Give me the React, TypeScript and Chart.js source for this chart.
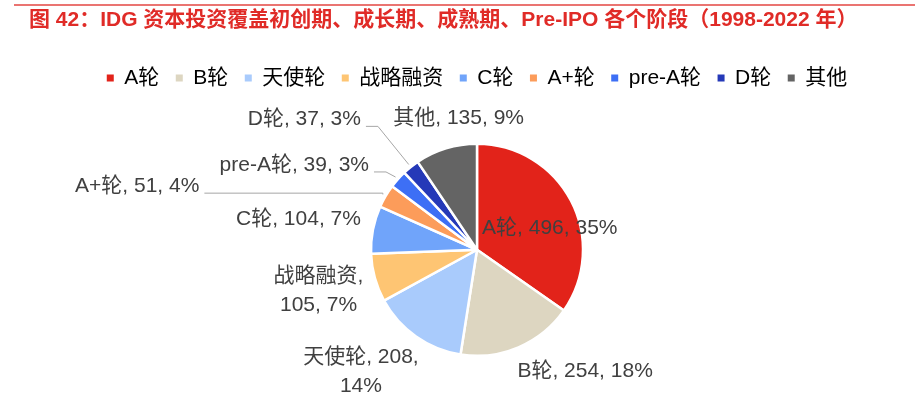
import React, { useEffect, useRef } from "react";
import { Chart, registerables } from "chart.js";

Chart.register(...registerables);

const titleText = "图 42：IDG 资本投资覆盖初创期、成长期、成熟期、Pre-IPO 各个阶段（1998-2022 年）";
const categories = ["A轮", "B轮", "天使轮", "战略融资", "C轮", "A+轮", "pre-A轮", "D轮", "其他"];
const counts = [496, 254, 208, 105, 104, 51, 39, 37, 135];
const percentLabels = ["35%", "18%", "14%", "7%", "7%", "4%", "3%", "3%", "9%"];
const sliceColors = ["#e2231a", "#ddd6c1", "#a9cbfc", "#fec573", "#70a4fa", "#fc9c5a", "#3d6ff5", "#2539b8", "#646464"];

// label placement relative to pie centre, in units of the pie radius
type LabelPos = { x: number; y: number; align: "left" | "right" | "center"; split?: "name" | "value"; leader?: boolean; knee?: number };
const labelLayout: LabelPos[] = [
  { x: 0.048, y: -0.2, align: "left" },
  { x: 0.381, y: 1.15, align: "left" },
  { x: -1.095, y: 1.15, align: "center", split: "value" },
  { x: -1.495, y: 0.385, align: "center", split: "name" },
  { x: -1.095, y: -0.29, align: "right" },
  { x: -2.619, y: -0.6, align: "right", leader: true },
  { x: -1.019, y: -0.8, align: "right", leader: true, knee: 12 },
  { x: -1.095, y: -1.23, align: "right", leader: true, knee: 12 },
  { x: -0.79, y: -1.24, align: "left" },
];

const FONT = '"Liberation Sans", "Noto Sans CJK SC", sans-serif';

const topRulePlugin = {
  id: "topRule",
  beforeDraw(chart: any) {
    const ctx = chart.ctx;
    ctx.save();
    ctx.fillStyle = "#e23a36";
    ctx.fillRect(14, 4.3, chart.width, 1.4);
    ctx.restore();
  },
};

const sliceLabelPlugin = {
  id: "sliceLabels",
  afterDatasetsDraw(chart: any) {
    const ctx = chart.ctx;
    const meta = chart.getDatasetMeta(0);
    ctx.save();
    ctx.font = `21px ${FONT}`;
    ctx.fillStyle = "#404040";
    ctx.textBaseline = "middle";
    meta.data.forEach((arc: any, i: number) => {
      const lay = labelLayout[i];
      const r = arc.outerRadius;
      const ax = arc.x + lay.x * r;
      const ay = arc.y + lay.y * r;
      const name = categories[i];
      const val = String(counts[i]);
      const pct = percentLabels[i];
      let lines: string[];
      if (lay.split === "name") lines = [`${name},`, `${val}, ${pct}`];
      else if (lay.split === "value") lines = [`${name}, ${val},`, pct];
      else lines = [`${name}, ${val}, ${pct}`];
      const lh = 29;
      ctx.textAlign = lay.align;
      lines.forEach((ln, k) => {
        ctx.fillText(ln, ax, ay + (k - (lines.length - 1) / 2) * lh);
      });
      if (lay.leader) {
        const mid = (arc.startAngle + arc.endAngle) / 2;
        const ex = arc.x + Math.cos(mid) * r * 1.03;
        const ey = arc.y + Math.sin(mid) * r * 1.03;
        const sx = ax + 5;
        const sy = ay + 7;
        const kx = lay.knee != null ? sx + lay.knee : ex;
        ctx.strokeStyle = "#a6a6a6";
        ctx.lineWidth = 1;
        ctx.beginPath();
        ctx.moveTo(sx, sy);
        ctx.lineTo(kx, sy);
        ctx.lineTo(ex, ey);
        ctx.stroke();
      }
    });
    ctx.restore();
  },
};

export default function App() {
  const ref = useRef<HTMLCanvasElement | null>(null);
  useEffect(() => {
    if (!ref.current) return;
    const chart = new Chart(ref.current, {
      type: "pie",
      data: {
        labels: categories,
        datasets: [
          {
            data: counts,
            backgroundColor: sliceColors,
            borderColor: "#ffffff",
            borderWidth: 2.5,
            radius: 106,
          } as any,
        ],
      },
      options: {
        responsive: false,
        animation: false,
        layout: { padding: { left: 29, right: 29, top: 0, bottom: 0 } },
        plugins: {
          tooltip: { enabled: false },
          title: {
            display: true,
            text: titleText,
            align: "start",
            color: "#e02b27",
            font: { family: FONT, size: 21, weight: "bold" },
            padding: { top: 8, bottom: 17.8 },
          },
          legend: {
            position: "top",
            labels: {
              boxWidth: 7,
              boxHeight: 7,
              padding: 16.5,
              color: "#595959",
              font: { family: FONT, size: 21 },
              generateLabels: (c: any) =>
                categories.map((t, i) => ({
                  text: t,
                  fillStyle: sliceColors[i],
                  strokeStyle: sliceColors[i],
                  lineWidth: 0,
                  hidden: false,
                  index: i,
                })),
            },
          },
        },
      },
      plugins: [topRulePlugin, sliceLabelPlugin],
    });
    return () => chart.destroy();
  }, []);
  return (
    <div style={{ position: "fixed", left: 0, top: 0, width: 915, height: 399, overflow: "hidden", background: "#fff" }}>
      <canvas ref={ref} width={954} height={401} style={{ display: "block" }} />
    </div>
  );
}
